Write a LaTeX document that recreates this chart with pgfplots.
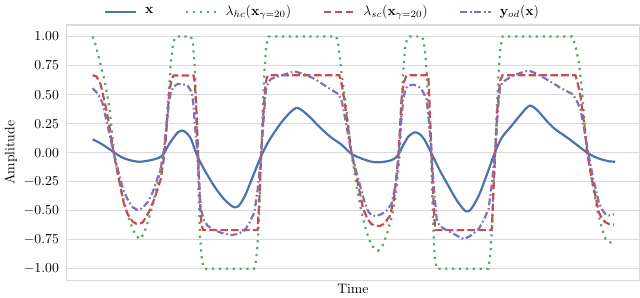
\documentclass[border=0pt]{standalone}
\usepackage{pgfplots}
\pgfplotsset{compat=1.18}
\definecolor{sbblue}{HTML}{4C72B0}
\definecolor{sbgreen}{HTML}{55A868}
\definecolor{sbred}{HTML}{C44E52}
\definecolor{sbpurple}{HTML}{8172B2}
\definecolor{gridgray}{HTML}{DADADA}
\begin{document}
\begin{tikzpicture}
\begin{axis}[
  scale only axis,
  width=417pt, height=186pt,
  xmin=66, xmax=637, ymin=-1.1, ymax=1.1,
  xtick=\empty,
  ytick={-1,-0.75,-0.5,-0.25,0,0.25,0.5,0.75,1},
  yticklabel style={/pgf/number format/fixed,/pgf/number format/precision=2,/pgf/number format/fixed zerofill, xshift=-2pt},
  major tick length=0pt,
  ymajorgrids,
  grid style={gridgray, line width=0.8pt},
  axis line style={gridgray, line width=1pt},
  xlabel={Time}, ylabel={Amplitude},
  xlabel style={yshift=1pt},
  ylabel style={yshift=-2pt},
  legend columns=4,
  legend style={draw=none, fill=none, at={(0.448,1.005)}, anchor=south,
    /tikz/every odd column/.append style={column sep=4pt},
    /tikz/every even column/.append style={column sep=21pt}, font=\normalsize},
  legend image code/.code={\draw[#1] (0pt,0pt) -- (22pt,0pt);},
]
\addplot[sbblue, line width=1.6pt, smooth, tension=0.5] coordinates {
(92,0.115)(100,0.08)(108,0.035)(113,0.005)(120,-0.035)(128,-0.062)(138,-0.078)(148,-0.068)(158,-0.045)(163,-0.01)(167,0.055)(172,0.12)(177,0.175)(181,0.19)(185,0.175)(190,0.12)(196,-0.02)(203,-0.14)(213,-0.285)(222,-0.39)(230,-0.455)(234,-0.47)(238,-0.455)(244,-0.37)(252,-0.2)(260,-0.03)(267,0.09)(274,0.185)(282,0.28)(290,0.355)(295,0.385)(299,0.375)(307,0.32)(315,0.25)(322,0.19)(330,0.13)(340,0.07)(350,-0.01)(360,-0.05)(370,-0.078)(378,-0.083)(388,-0.07)(394,-0.045)(398,0.0)(402,0.07)(407,0.14)(413,0.175)(418,0.16)(423,0.11)(430,-0.01)(438,-0.15)(447,-0.29)(455,-0.41)(462,-0.49)(465,-0.505)(469,-0.49)(477,-0.37)(485,-0.19)(493,0.0)(500,0.13)(510,0.235)(518,0.32)(524,0.38)(528,0.405)(532,0.39)(537,0.35)(545,0.27)(552,0.21)(560,0.16)(567,0.118)(575,0.065)(585,0.0)(592,-0.035)(600,-0.06)(607,-0.075)(613,-0.078)
};
\addlegendentry{$\mathbf{x}$}
\addplot[sbgreen, line width=1.6pt, dash pattern=on 1.6pt off 3.4pt] coordinates {
(92,1.0)(95,0.93)(100,0.76)(104,0.62)(109,0.38)(113,0.03)(117,-0.17)(122,-0.38)(127,-0.53)(132,-0.66)(136,-0.72)(139,-0.745)(143,-0.70)(147,-0.60)(152,-0.45)(157,-0.26)(161,-0.08)(163.5,0.02)(166,0.3)(168.5,0.58)(170.5,0.82)(172.5,0.95)(175,1.0)(177,1.0)(190,1.0)(192,0.95)(194,0.72)(196.7,-0.03)(199,-0.7)(201,-0.93)(203.5,-1.0)(253,-1.0)(255,-0.93)(257,-0.72)(260,-0.03)(263,0.65)(265,0.92)(267.5,1.0)(335,1.0)(337,0.93)(340,0.7)(345,0.38)(350,0.0)(355,-0.28)(360,-0.51)(365,-0.68)(370,-0.8)(376.7,-0.845)(381,-0.8)(385,-0.715)(390,-0.56)(393.3,-0.43)(396,-0.22)(398.3,0.0)(400,0.4)(401.7,0.69)(403.5,0.9)(405.5,0.98)(408,1.0)(420,1.0)(422,0.97)(424,0.82)(425,0.69)(427,0.35)(429.3,0.0)(430.5,-0.35)(431.7,-0.66)(433,-0.9)(435,-1.0)(486.5,-1.0)(488.5,-0.88)(490,-0.66)(491.5,-0.33)(493.3,0.0)(495,0.38)(496.7,0.69)(498.5,0.9)(500.7,1.0)(570,1.0)(573,0.93)(576.7,0.78)(580,0.52)(585,0.0)(590,-0.25)(595,-0.49)(600,-0.66)(603.3,-0.745)(607,-0.77)(611,-0.78)
};
\addlegendentry{$\lambda_{hc}(\mathbf{x}_{\gamma=20})$}
\addplot[sbred, line width=1.6pt, dash pattern=on 5.5pt off 2.4pt] coordinates {
(92,0.667)(96,0.655)(100,0.59)(104,0.44)(108,0.27)(113,0.0)(118,-0.22)(123,-0.43)(127,-0.53)(131.7,-0.59)(135,-0.61)(138.3,-0.615)(142,-0.60)(148,-0.515)(154,-0.39)(160,-0.227)(163,-0.05)(165,0.118)(167,0.35)(168.5,0.52)(170.5,0.62)(172.7,0.665)(192.7,0.665)(194,0.6)(195.3,0.405)(197.3,-0.03)(199,-0.42)(200.5,-0.6)(202,-0.667)(256.5,-0.667)(258,-0.45)(260,-0.03)(262,0.3)(264,0.55)(265.5,0.64)(267,0.667)(338,0.667)(340,0.606)(343,0.45)(347,0.2)(350,0.0)(355,-0.2)(361.7,-0.485)(366,-0.57)(370,-0.615)(374,-0.63)(378.3,-0.632)(383,-0.61)(388.3,-0.545)(392,-0.42)(394.5,-0.25)(396.7,-0.03)(398.5,0.22)(400,0.46)(402,0.6)(405,0.667)(426.7,0.667)(428,0.4)(430,-0.03)(432,-0.45)(433.5,-0.667)(490,-0.667)(491.5,-0.35)(493.3,0.0)(495.5,0.38)(498.3,0.62)(500.7,0.667)(573.3,0.667)(575.5,0.6)(578.3,0.49)(582,0.25)(585,0.0)(590,-0.24)(596.7,-0.515)(600,-0.57)(603.3,-0.6)(607,-0.615)(611.7,-0.62)
};
\addlegendentry{$\lambda_{sc}(\mathbf{x}_{\gamma=20})$}
\addplot[sbpurple, line width=1.6pt, dash pattern=on 5pt off 2pt on 1.2pt off 2pt] coordinates {
(92,0.555)(97,0.51)(101.7,0.434)(106,0.27)(113,0.0)(118,-0.17)(123.3,-0.34)(128,-0.42)(132,-0.47)(136.7,-0.494)(141,-0.48)(146.7,-0.43)(152,-0.34)(160,-0.14)(163,0.02)(166,0.26)(168,0.42)(170,0.52)(173,0.57)(176.7,0.59)(182,0.59)(186.7,0.578)(189.5,0.54)(191.7,0.49)(193.5,0.3)(196.7,-0.03)(198.5,-0.3)(200,-0.485)(203,-0.58)(206.7,-0.63)(212,-0.66)(220,-0.69)(230,-0.71)(237,-0.7)(243.3,-0.672)(248,-0.61)(253.3,-0.515)(256.5,-0.32)(260,-0.03)(263,0.35)(265,0.55)(267.5,0.61)(270,0.635)(280,0.665)(293.3,0.7)(303,0.675)(313.3,0.635)(325,0.57)(336.7,0.506)(340,0.46)(343,0.33)(347,0.14)(350,0.0)(356,-0.2)(363.3,-0.43)(366.5,-0.5)(370,-0.54)(375,-0.545)(380,-0.53)(385,-0.5)(390,-0.44)(393.5,-0.3)(396.7,-0.083)(399,0.2)(401.7,0.46)(404,0.55)(406.7,0.578)(412,0.585)(416.7,0.572)(421,0.53)(425,0.46)(427.5,0.25)(430,-0.03)(432.5,-0.33)(435,-0.57)(438,-0.63)(443.3,-0.66)(452,-0.7)(461.7,-0.744)(468,-0.72)(476.7,-0.66)(482,-0.58)(486.7,-0.485)(490,-0.27)(493.3,0.0)(496,0.36)(498.3,0.578)(503,0.62)(510,0.658)(518,0.685)(526.7,0.707)(535,0.68)(546.7,0.62)(558,0.56)(570,0.506)(574,0.46)(578.3,0.376)(582,0.2)(586.7,-0.03)(591,-0.22)(596.7,-0.43)(600,-0.49)(603.3,-0.53)(607,-0.54)(611.7,-0.53)
};
\addlegendentry{$\mathbf{y}_{od}(\mathbf{x})$}
\end{axis}
\end{tikzpicture}
\end{document}
